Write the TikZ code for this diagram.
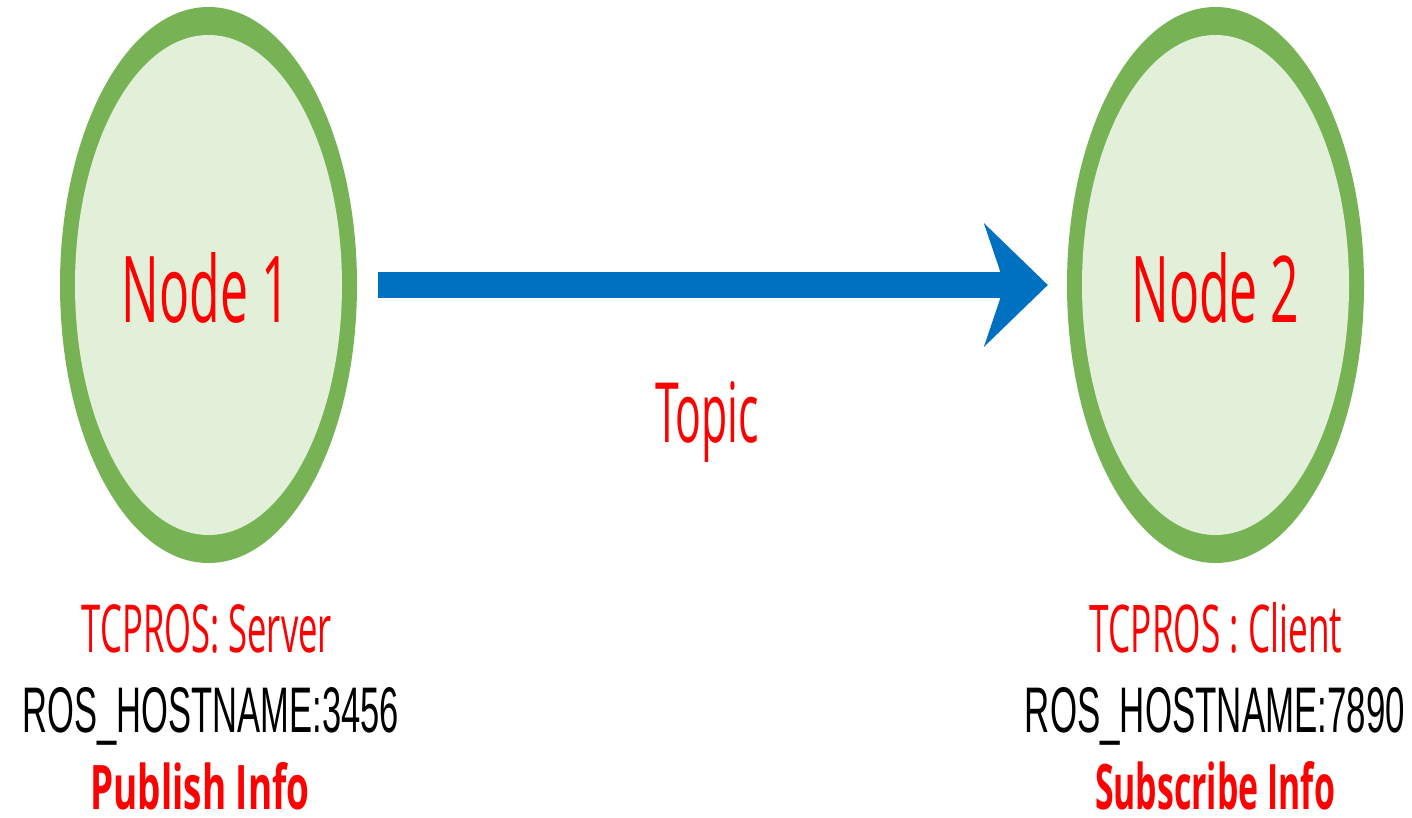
\documentclass[tikz,border=0pt]{standalone}
\usepackage{fontspec}
\setmainfont{Open Sans}
\newfontfamily\hostfont{Liberation Sans}
\usetikzlibrary{shapes.geometric,arrows.meta}

\definecolor{ringgreen}{HTML}{77B255}
\definecolor{nodefill}{HTML}{E2F0D9}
\definecolor{topicblue}{HTML}{0070C0}
\definecolor{labelred}{HTML}{FF0000}

% set a label to an exact width and height (in pt)
\newcommand\fitlabel[3]{\resizebox{#1pt}{#2pt}{#3}}

\begin{document}
\begin{tikzpicture}[x=1pt, y=-1pt,
  ring/.style={ellipse, fill=ringgreen, inner sep=0pt,
    minimum width=297pt, minimum height=556pt},
  core/.style={ellipse, fill=nodefill, inner sep=0pt,
    minimum width=267pt, minimum height=500pt},
  lbl/.style={anchor=base, inner sep=0pt, text=labelred},
  boldlbl/.style={lbl, font=\bfseries},
  host/.style={anchor=base, inner sep=0pt, text=black, font=\hostfont},
  topicarrow/.style={draw=topicblue, line width=26pt,
    -{Stealth[length=64pt, width=124pt, inset=21pt, line width=0pt]},
    shorten <=21pt, shorten >=19pt}]

  \fill[white] (0,0) rectangle (1412,817);
  \useasboundingbox (0,0) rectangle (1412,817);

  % the two ROS nodes
  \node[ring] (n1) at (208.5,285) {};
  \node[core] (c1) at (n1.center) {};
  \node[ring] (n2) at (1215.5,285) {};
  \node[core] (c2) at (n2.center) {};

  \node[lbl] (n1txt) at (206,322) {\fitlabel{168}{70}{Node 1}};
  \node[lbl] (n2txt) at (1215.5,322) {\fitlabel{168}{70}{Node 2}};

  % topic connection
  \draw[topicarrow] (n1) -- (n2);
  \node[lbl] (topic) at (707,442) {\fitlabel{104}{61}{Topic}};

  % publisher side
  \node[lbl] (pubproto) at (207,652) {\fitlabel{250}{48}{TCPROS: Server}};
  \node[host] (pubhost) at (211,732) {\fitlabel{376}{45}{ROS\_HOSTNAME:3456}};
  \node[boldlbl] (pubinfo) at (200,809) {\fitlabel{219}{47}{Publish Info}};

  % subscriber side
  \node[lbl] (subproto) at (1216,652) {\fitlabel{252}{50}{TCPROS : Client}};
  \node[host] (subhost) at (1215,732) {\fitlabel{380}{45}{ROS\_HOSTNAME:7890}};
  \node[boldlbl] (subinfo) at (1215,809) {\fitlabel{240}{48}{Subscribe Info}};
\end{tikzpicture}
\end{document}
